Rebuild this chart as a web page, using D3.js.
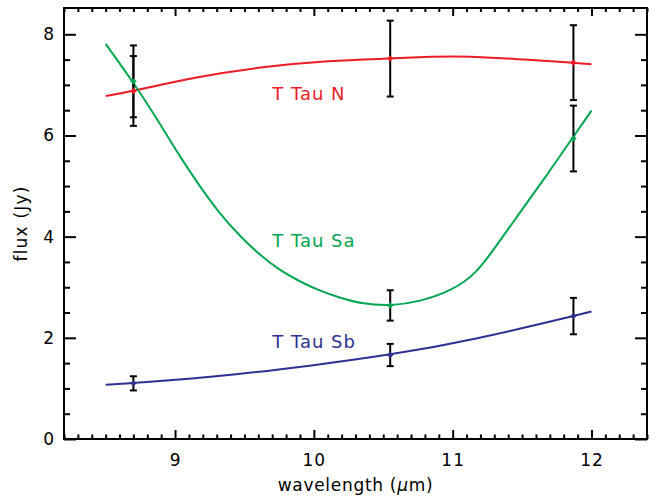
<!doctype html>
<html lang="en">
  <head>
    <meta charset="utf-8">
    <title>T Tau flux vs wavelength</title>
    <style>
      body { margin: 0; background: #fff; }
      text { font-family: "DejaVu Sans", sans-serif; }
    </style>
  </head>
  <body>
    <script src="https://cdn.jsdelivr.net/npm/d3@7"></script>
    <script>
      // measured photometry
      var wave = [8.70, 10.55, 11.87];
      var fluxN  = [6.88, 7.52, 7.44], errN  = [0.69, 0.75, 0.74];
      var fluxSa = [7.07, 2.64, 5.94], errSa = [0.71, 0.30, 0.65];
      var fluxSb = [1.10, 1.66, 2.43], errSb = [0.14, 0.22, 0.36];

      // model curves
      var modelWaveN = [8.5, 8.7, 9.15, 9.63, 10.11, 10.55, 10.86, 11.1, 11.46, 11.86, 12.0];
      var modelN     = [6.78, 6.88, 7.16, 7.36, 7.48, 7.52, 7.56, 7.57, 7.51, 7.44, 7.41];
      var modelWaveSa = [8.5, 8.7, 8.89, 9.035, 9.18, 9.32, 9.47, 9.61, 9.75, 9.90, 10.04, 10.19, 10.35, 10.55, 10.76, 11.0, 11.17, 11.31, 11.48, 11.67, 11.86, 12.0];
      var modelSa     = [7.81, 7.05, 6.24, 5.58, 4.99, 4.46, 4.00, 3.64, 3.34, 3.11, 2.93, 2.79, 2.67, 2.63, 2.71, 2.94, 3.27, 3.80, 4.46, 5.18, 5.94, 6.49];
      var modelWaveSb = [8.5, 8.7, 9.47, 9.95, 10.55, 11.15, 11.87, 12.0];
      var modelSb     = [1.07, 1.10, 1.28, 1.44, 1.66, 1.96, 2.43, 2.52];

      var names  = ["T Tau N", "T Tau Sa", "T Tau Sb"];
      var colors = ["#ed1c24", "#00a651", "#2e3192"];
      var labelX = [9.7, 9.7, 9.7];
      var labelY = [6.70, 3.79, 1.80];

      var xMajor = [9, 10, 11, 12];
      var yMajor = [0, 2, 4, 6, 8];

      var margin = {top: 8, right: 13, bottom: 59, left: 64},
          width = 660 - margin.left - margin.right,
          height = 498 - margin.top - margin.bottom;

      var svg = d3.select("body")
        .append("svg")
        .attr("width", 660)
        .attr("height", 498);

      var chart = svg.append("g")
        .attr("transform", "translate(" + margin.left + "," + margin.top + ")");

      var x = d3.scaleLinear().domain([8.2, 12.4]).range([0, width]);
      var y = d3.scaleLinear().domain([0, 8.52]).range([height, 0]);

      var xMinor = d3.range(82, 125).filter(function(d){ return d % 10 !== 0; }).map(function(d){ return d / 10; });
      var yMinor = d3.range(1, 17).filter(function(d){ return d % 4 !== 0; }).map(function(d){ return d / 2; });

      function styleAxis(g) {
        g.select(".domain").remove();
        g.selectAll("line").attr("stroke", "#000").attr("stroke-width", 2);
        g.selectAll("text")
          .attr("font-size", 17)
          .attr("letter-spacing", 1)
          .attr("fill", "#000");
      }

      // bottom
      chart.append("g").attr("transform", "translate(0," + height + ")")
        .call(d3.axisBottom(x).tickValues(xMajor).tickSizeInner(-9).tickSizeOuter(0).tickPadding(15).tickFormat(d3.format("d")))
        .call(styleAxis);
      chart.append("g").attr("transform", "translate(0," + height + ")")
        .call(d3.axisBottom(x).tickValues(xMinor).tickSizeInner(-4.5).tickSizeOuter(0).tickFormat(""))
        .call(styleAxis);
      // top
      chart.append("g")
        .call(d3.axisTop(x).tickValues(xMajor).tickSizeInner(-8).tickSizeOuter(0).tickFormat(""))
        .call(styleAxis);
      chart.append("g")
        .call(d3.axisTop(x).tickValues(xMinor).tickSizeInner(-4).tickSizeOuter(0).tickFormat(""))
        .call(styleAxis);
      // left
      chart.append("g")
        .call(d3.axisLeft(y).tickValues(yMajor).tickSizeInner(-12).tickSizeOuter(0).tickPadding(9).tickFormat(d3.format("d")))
        .call(styleAxis);
      chart.append("g")
        .call(d3.axisLeft(y).tickValues(yMinor).tickSizeInner(-6).tickSizeOuter(0).tickFormat(""))
        .call(styleAxis);
      // right
      chart.append("g").attr("transform", "translate(" + width + ",0)")
        .call(d3.axisRight(y).tickValues(yMajor).tickSizeInner(-12).tickSizeOuter(0).tickFormat(""))
        .call(styleAxis);
      chart.append("g").attr("transform", "translate(" + width + ",0)")
        .call(d3.axisRight(y).tickValues(yMinor).tickSizeInner(-6).tickSizeOuter(0).tickFormat(""))
        .call(styleAxis);

      chart.append("rect")
        .attr("width", width)
        .attr("height", height)
        .attr("fill", "none")
        .attr("stroke", "#000")
        .attr("stroke-width", 2);

      var line = d3.line()
        .x(function(d){ return x(d[0]); })
        .y(function(d){ return y(d[1]); })
        .curve(d3.curveBasis);

      var models = [d3.zip(modelWaveN, modelN), d3.zip(modelWaveSa, modelSa), d3.zip(modelWaveSb, modelSb)];
      var fluxes = [fluxN, fluxSa, fluxSb];
      var errs   = [errN, errSa, errSb];

      chart.selectAll(".model")
        .data(models)
        .enter()
        .append("path")
        .attr("d", line)
        .attr("fill", "none")
        .attr("stroke", function(d, i){ return colors[i]; })
        .attr("stroke-width", 2);

      // error bars
      fluxes.forEach(function(f, i){
        var pts = wave.map(function(w, j){ return {w: w, f: f[j], e: errs[i][j]}; });
        var g = chart.append("g").attr("stroke", "#000").attr("stroke-width", 2);
        pts.forEach(function(p){
          var cx = x(p.w), y0 = y(p.f - p.e), y1 = y(p.f + p.e);
          g.append("line").attr("x1", cx).attr("x2", cx).attr("y1", y0).attr("y2", y1);
          g.append("line").attr("x1", cx - 3.5).attr("x2", cx + 3.5).attr("y1", y0).attr("y2", y0);
          g.append("line").attr("x1", cx - 3.5).attr("x2", cx + 3.5).attr("y1", y1).attr("y2", y1);
        });
      });

      // markers
      fluxes.forEach(function(f, i){
        chart.selectAll(".pt" + i)
          .data(wave.map(function(w, j){ return [w, f[j]]; }))
          .enter()
          .append("path")
          .attr("d", d3.symbol().type(d3.symbolDiamond2).size(26))
          .attr("transform", function(d){ return "translate(" + x(d[0]) + "," + y(d[1]) + ")"; })
          .attr("fill", colors[i]);
      });

      chart.selectAll(".lbl")
        .data(names)
        .enter()
        .append("text")
        .attr("x", function(d, i){ return x(labelX[i]); })
        .attr("y", function(d, i){ return y(labelY[i]); })
        .attr("font-size", 18)
        .attr("letter-spacing", 1)
        .attr("fill", function(d, i){ return colors[i]; })
        .text(function(d){ return d; });

      // axis titles
      var xt = svg.append("text")
        .attr("x", margin.left + width / 2)
        .attr("y", 491)
        .attr("text-anchor", "middle")
        .attr("font-size", 17)
        .attr("letter-spacing", 0.7);
      xt.append("tspan").text("wavelength (");
      xt.append("tspan").attr("font-style", "italic").text("\u03bc");
      xt.append("tspan").text("m)");

      svg.append("text")
        .attr("transform", "translate(27," + (margin.top + height / 2) + ") rotate(-90)")
        .attr("text-anchor", "middle")
        .attr("font-size", 17)
        .attr("letter-spacing", 1.2)
        .text("flux (Jy)");
    </script>
  </body>
</html>
